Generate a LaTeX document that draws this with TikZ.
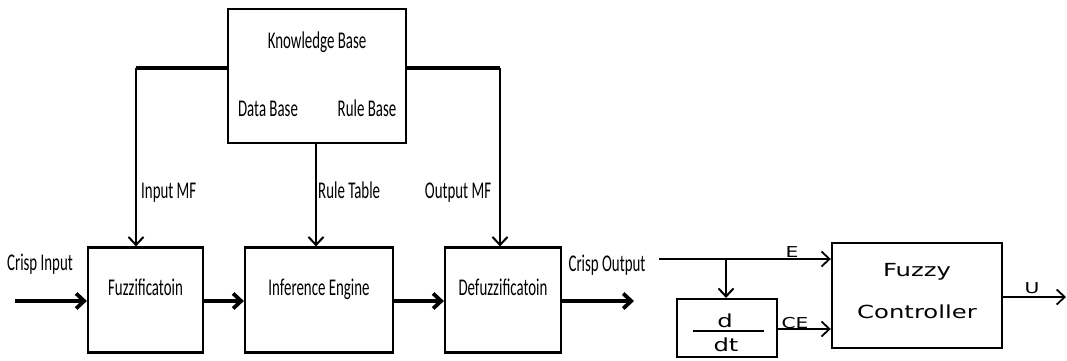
\documentclass[tikz,border=0pt]{standalone}
\usepackage{fontspec}
\usepackage{graphicx}
\setmainfont{Carlito}
\newfontfamily\dvfont{DejaVu Sans}
\usetikzlibrary{arrows.meta,calc}
\newcommand{\cnd}[1]{\scalebox{0.62}[1]{#1}}
\newcommand{\wde}[1]{\scalebox{1.35}[1]{#1}}
\tikzset{
  blk/.style={draw, line width=2.2pt, rectangle, inner sep=0pt},
  lbl/.style={inner sep=0pt, anchor=base, font=\fontsize{24}{26}\selectfont},
  rlbl/.style={inner sep=0pt, anchor=base, font=\dvfont\fontsize{18}{20}\selectfont},
  slbl/.style={inner sep=0pt, anchor=base, font=\dvfont\fontsize{15}{17}\selectfont},
  arr/.style={-{Straight Barb[length=8pt,width=15pt]}},
  thk/.style={line width=3.8pt},
  med/.style={line width=2pt},
  thn/.style={line width=1.8pt},
}
\begin{document}
\begin{tikzpicture}[x=1pt,y=-1pt]
\useasboundingbox (0,0) rectangle (1067,360);
% boxes
\node[blk, minimum width=178pt, minimum height=134pt] (kb) at (317,76) {};
\node[blk, minimum width=115pt, minimum height=105pt] (fuz) at (145.5,300) {};
\node[blk, minimum width=148pt, minimum height=105pt] (inf) at (319,300) {};
\node[blk, minimum width=116pt, minimum height=105pt] (def) at (503,300) {};
\node[blk, minimum width=100pt, minimum height=58pt] (ddt) at (727,328) {};
\node[blk, line width=2.4pt, minimum width=170pt, minimum height=105pt] (fc) at (917,295.5) {};
% box texts
\node[lbl] (kbt) at (317,48) {\cnd{Knowledge Base}};
\node[lbl] (dbt) at (268,116) {\cnd{Data Base}};
\node[lbl] (rbt) at (367,116) {\cnd{Rule Base}};
\node[lbl] (fuzt) at (145.5,295) {\cnd{Fuzzificatoin}};
\node[lbl] (inft) at (319,295) {\cnd{Inference Engine}};
\node[lbl] (deft) at (503,295) {\cnd{Defuzzificatoin}};
\node[rlbl] (fct1) at (917,276) {\wde{Fuzzy}};
\node[rlbl] (fct2) at (917,318) {\wde{Controller}};
\node[rlbl] (dn) at (725,327) {\wde{d}};
\node[rlbl] (dd) at (726,351) {\wde{dt}};
% labels
\node[lbl] (cin) at (40,270) {\cnd{Crisp Input}};
\node[lbl] (cout) at (607,271) {\cnd{Crisp Output}};
\node[lbl, anchor=base west] (inmf) at (141,198) {\cnd{Input MF}};
\node[lbl, anchor=base west] (rtab) at (318,198) {\cnd{Rule Table}};
\node[lbl] (outmf) at (458,198) {\cnd{Output MF}};
\node[slbl] (el) at (792,257) {\wde{E}};
\node[slbl] (cel) at (795,328) {\wde{CE}};
\node[slbl] (ul) at (1032,293) {\wde{U}};
% coordinates
\coordinate (cin0) at (15,301);
\coordinate (cout1) at (634,301);
\coordinate (e0) at (659,259);
\coordinate (br) at (726,259);
\coordinate (u1) at (1066,297);
% fraction bar
\draw[line width=1.6pt] (693,331) -- (764,331);
% left connectors
\draw[thk,arr] (cin0) -- (fuz.west |- cin0);
\draw[thk,arr] (fuz.east |- cin0) -- (inf.west |- cin0);
\draw[thk,arr] (inf.east |- cin0) -- (def.west |- cin0);
\draw[thk,arr] (def.east |- cin0) -- (cout1);
\draw[line width=3.2pt] (kb.west |- 0,68) -- (136,68);
\draw[med,arr] (136,68) -- (fuz.north -| 136,0);
\draw[line width=3.2pt] (kb.east |- 0,68) -- (500,68);
\draw[med,arr] (500,68) -- (def.north -| 500,0);
\draw[med,arr] (kb.south -| 316,0) -- (inf.north -| 316,0);
% right connectors
\draw[thn,arr] (e0) -- (fc.west |- e0);
\draw[med,arr] (br) -- (ddt.north -| br);
\draw[thn,arr] (ddt.east |- 0,329) -- (fc.west |- 0,329);
\draw[thn,arr] (fc.east |- 0,297) -- (u1);
\end{tikzpicture}
\end{document}
